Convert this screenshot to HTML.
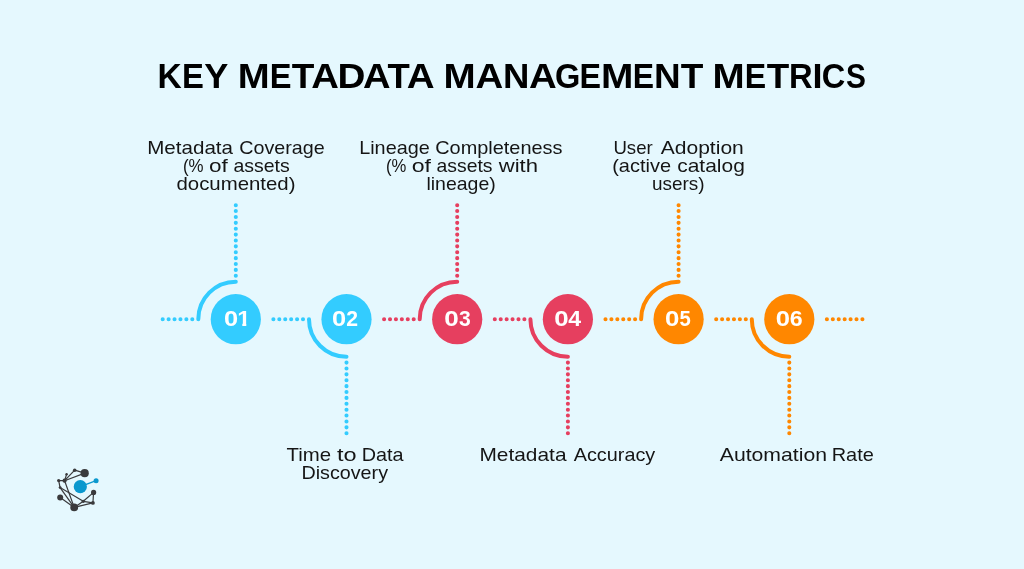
<!DOCTYPE html>
<html lang="en">
<head>
<meta charset="utf-8">
<title>Key Metadata Management Metrics</title>
<style>
html,body{margin:0;padding:0;background:#E5F8FE;}
body{width:1024px;height:569px;overflow:hidden;font-family:"Liberation Sans",sans-serif;}
svg{display:block;will-change:transform;}
text{font-family:"Liberation Sans",sans-serif;}
.title{font-size:35.1px;font-weight:bold;fill:#000;}
.lbl{font-size:17.7px;fill:#151515;}
.num{font-size:21.4px;font-weight:bold;fill:#fff;}
</style>
</head>
<body>
<svg width="1024" height="569" viewBox="0 0 1024 569">
<rect width="1024" height="569" fill="#E5F8FE"/>
<defs><clipPath id="c1"><rect x="237.80" y="304.50" width="8.80" height="18.47"/><rect x="242.29" y="322.92" width="4.01" height="3.98"/></clipPath></defs>
<line x1="162.70" y1="319.20" x2="192.40" y2="319.20" stroke="#33CCFF" stroke-width="4.1" stroke-linecap="round" stroke-dasharray="0 5.92"/>
<path d="M198.30 319.20 A37.5 37.5 0 0 1 235.80 281.70" fill="none" stroke="#33CCFF" stroke-width="4.0" stroke-linecap="round"/>
<line x1="235.80" y1="275.80" x2="235.80" y2="205.08" stroke="#33CCFF" stroke-width="4.1" stroke-linecap="round" stroke-dasharray="0 5.885"/>
<circle cx="235.80" cy="319.20" r="25.1" fill="#33CCFF"/>
<line x1="273.40" y1="319.20" x2="303.10" y2="319.20" stroke="#33CCFF" stroke-width="4.1" stroke-linecap="round" stroke-dasharray="0 5.92"/>
<path d="M309.00 319.20 A37.5 37.5 0 0 0 346.50 356.70" fill="none" stroke="#33CCFF" stroke-width="4.0" stroke-linecap="round"/>
<line x1="346.50" y1="362.60" x2="346.50" y2="433.32" stroke="#33CCFF" stroke-width="4.1" stroke-linecap="round" stroke-dasharray="0 5.885"/>
<circle cx="346.50" cy="319.20" r="25.1" fill="#33CCFF"/>
<line x1="384.10" y1="319.20" x2="413.80" y2="319.20" stroke="#E63F5F" stroke-width="4.1" stroke-linecap="round" stroke-dasharray="0 5.92"/>
<path d="M419.70 319.20 A37.5 37.5 0 0 1 457.20 281.70" fill="none" stroke="#E63F5F" stroke-width="4.0" stroke-linecap="round"/>
<line x1="457.20" y1="275.80" x2="457.20" y2="205.08" stroke="#E63F5F" stroke-width="4.1" stroke-linecap="round" stroke-dasharray="0 5.885"/>
<circle cx="457.20" cy="319.20" r="25.1" fill="#E63F5F"/>
<line x1="494.80" y1="319.20" x2="524.50" y2="319.20" stroke="#E63F5F" stroke-width="4.1" stroke-linecap="round" stroke-dasharray="0 5.92"/>
<path d="M530.40 319.20 A37.5 37.5 0 0 0 567.90 356.70" fill="none" stroke="#E63F5F" stroke-width="4.0" stroke-linecap="round"/>
<line x1="567.90" y1="362.60" x2="567.90" y2="433.32" stroke="#E63F5F" stroke-width="4.1" stroke-linecap="round" stroke-dasharray="0 5.885"/>
<circle cx="567.90" cy="319.20" r="25.1" fill="#E63F5F"/>
<line x1="605.50" y1="319.20" x2="635.20" y2="319.20" stroke="#FF8700" stroke-width="4.1" stroke-linecap="round" stroke-dasharray="0 5.92"/>
<path d="M641.10 319.20 A37.5 37.5 0 0 1 678.60 281.70" fill="none" stroke="#FF8700" stroke-width="4.0" stroke-linecap="round"/>
<line x1="678.60" y1="275.80" x2="678.60" y2="205.08" stroke="#FF8700" stroke-width="4.1" stroke-linecap="round" stroke-dasharray="0 5.885"/>
<circle cx="678.60" cy="319.20" r="25.1" fill="#FF8700"/>
<line x1="716.20" y1="319.20" x2="745.90" y2="319.20" stroke="#FF8700" stroke-width="4.1" stroke-linecap="round" stroke-dasharray="0 5.92"/>
<path d="M751.80 319.20 A37.5 37.5 0 0 0 789.30 356.70" fill="none" stroke="#FF8700" stroke-width="4.0" stroke-linecap="round"/>
<line x1="789.30" y1="362.60" x2="789.30" y2="433.32" stroke="#FF8700" stroke-width="4.1" stroke-linecap="round" stroke-dasharray="0 5.885"/>
<circle cx="789.30" cy="319.20" r="25.1" fill="#FF8700"/>
<line x1="826.90" y1="319.20" x2="862.52" y2="319.20" stroke="#FF8700" stroke-width="4.1" stroke-linecap="round" stroke-dasharray="0 5.92"/>
<text class="title" y="88.00"><tspan x="157.51" textLength="24.20" lengthAdjust="spacingAndGlyphs">K</tspan><tspan x="182.11" textLength="21.88" lengthAdjust="spacingAndGlyphs">E</tspan><tspan x="204.18" textLength="24.10" lengthAdjust="spacingAndGlyphs">Y</tspan></text>
<text class="title" y="88.00"><tspan x="237.84" textLength="31.93" lengthAdjust="spacingAndGlyphs">M</tspan><tspan x="269.72" textLength="21.76" lengthAdjust="spacingAndGlyphs">E</tspan><tspan x="291.68" textLength="22.61" lengthAdjust="spacingAndGlyphs">T</tspan><tspan x="311.15" textLength="27.66" lengthAdjust="spacingAndGlyphs">A</tspan><tspan x="337.41" textLength="27.91" lengthAdjust="spacingAndGlyphs">D</tspan><tspan x="362.95" textLength="27.56" lengthAdjust="spacingAndGlyphs">A</tspan><tspan x="387.59" textLength="22.30" lengthAdjust="spacingAndGlyphs">T</tspan><tspan x="406.84" textLength="27.88" lengthAdjust="spacingAndGlyphs">A</tspan></text>
<text class="title" y="88.00"><tspan x="443.62" textLength="32.17" lengthAdjust="spacingAndGlyphs">M</tspan><tspan x="475.54" textLength="27.77" lengthAdjust="spacingAndGlyphs">A</tspan><tspan x="503.05" textLength="26.41" lengthAdjust="spacingAndGlyphs">N</tspan><tspan x="529.04" textLength="27.77" lengthAdjust="spacingAndGlyphs">A</tspan><tspan x="554.96" textLength="25.36" lengthAdjust="spacingAndGlyphs">G</tspan><tspan x="579.54" textLength="21.52" lengthAdjust="spacingAndGlyphs">E</tspan><tspan x="600.90" textLength="32.40" lengthAdjust="spacingAndGlyphs">M</tspan><tspan x="632.87" textLength="21.28" lengthAdjust="spacingAndGlyphs">E</tspan><tspan x="654.03" textLength="26.66" lengthAdjust="spacingAndGlyphs">N</tspan><tspan x="680.78" textLength="22.61" lengthAdjust="spacingAndGlyphs">T</tspan></text>
<text class="title" y="88.00"><tspan x="712.62" textLength="32.17" lengthAdjust="spacingAndGlyphs">M</tspan><tspan x="744.75" textLength="21.40" lengthAdjust="spacingAndGlyphs">E</tspan><tspan x="766.69" textLength="22.51" lengthAdjust="spacingAndGlyphs">T</tspan><tspan x="789.01" textLength="23.66" lengthAdjust="spacingAndGlyphs">R</tspan><tspan x="812.59" textLength="10.03" lengthAdjust="spacingAndGlyphs">I</tspan><tspan x="821.86" textLength="23.53" lengthAdjust="spacingAndGlyphs">C</tspan><tspan x="846.04" textLength="19.93" lengthAdjust="spacingAndGlyphs">S</tspan></text>
<text class="lbl" y="153.70"><tspan x="147.22" textLength="85.78" lengthAdjust="spacingAndGlyphs">Metadata</tspan> <tspan x="239.23" textLength="85.54" lengthAdjust="spacingAndGlyphs">Coverage</tspan></text>
<text class="lbl" y="171.60"><tspan x="182.91" textLength="20.63" lengthAdjust="spacingAndGlyphs">(%</tspan> <tspan x="208.96" textLength="18.80" lengthAdjust="spacingAndGlyphs">of</tspan> <tspan x="233.47" textLength="56.30" lengthAdjust="spacingAndGlyphs">assets</tspan></text>
<text class="lbl" y="189.50"><tspan x="176.48" textLength="119.04" lengthAdjust="spacingAndGlyphs">documented)</tspan></text>
<text class="lbl" y="153.70"><tspan x="359.19" textLength="70.59" lengthAdjust="spacingAndGlyphs">Lineage</tspan> <tspan x="435.24" textLength="127.27" lengthAdjust="spacingAndGlyphs">Completeness</tspan></text>
<text class="lbl" y="171.60"><tspan x="385.93" textLength="20.36" lengthAdjust="spacingAndGlyphs">(%</tspan> <tspan x="411.70" textLength="19.30" lengthAdjust="spacingAndGlyphs">of</tspan> <tspan x="436.48" textLength="56.04" lengthAdjust="spacingAndGlyphs">assets</tspan> <tspan x="498.75" textLength="39.31" lengthAdjust="spacingAndGlyphs">with</tspan></text>
<text class="lbl" y="189.50"><tspan x="426.45" textLength="69.34" lengthAdjust="spacingAndGlyphs">lineage)</tspan></text>
<text class="lbl" y="153.70"><tspan x="613.43" textLength="39.34" lengthAdjust="spacingAndGlyphs">User</tspan> <tspan x="660.75" textLength="83.03" lengthAdjust="spacingAndGlyphs">Adoption</tspan></text>
<text class="lbl" y="171.60"><tspan x="612.21" textLength="58.82" lengthAdjust="spacingAndGlyphs">(active</tspan> <tspan x="677.22" textLength="67.58" lengthAdjust="spacingAndGlyphs">catalog</tspan></text>
<text class="lbl" y="189.50"><tspan x="651.94" textLength="52.61" lengthAdjust="spacingAndGlyphs">users)</tspan></text>
<text class="lbl" y="460.70"><tspan x="286.48" textLength="44.55" lengthAdjust="spacingAndGlyphs">Time</tspan> <tspan x="336.97" textLength="19.61" lengthAdjust="spacingAndGlyphs">to</tspan> <tspan x="361.69" textLength="41.81" lengthAdjust="spacingAndGlyphs">Data</tspan></text>
<text class="lbl" y="478.60"><tspan x="301.47" textLength="86.54" lengthAdjust="spacingAndGlyphs">Discovery</tspan></text>
<text class="lbl" y="460.70"><tspan x="479.47" textLength="87.03" lengthAdjust="spacingAndGlyphs">Metadata</tspan> <tspan x="573.75" textLength="81.50" lengthAdjust="spacingAndGlyphs">Accuracy</tspan></text>
<text class="lbl" y="460.70"><tspan x="719.75" textLength="107.27" lengthAdjust="spacingAndGlyphs">Automation</tspan> <tspan x="831.66" textLength="42.14" lengthAdjust="spacingAndGlyphs">Rate</tspan></text>
<text class="num" y="325.90"><tspan x="223.99" textLength="14.15" lengthAdjust="spacingAndGlyphs">0</tspan></text><text class="num" y="325.90" clip-path="url(#c1)"><tspan x="237.15" textLength="13.43" lengthAdjust="spacingAndGlyphs">1</tspan></text>
<text class="num" y="325.90"><tspan x="332.09" textLength="14.15" lengthAdjust="spacingAndGlyphs">0</tspan><tspan x="346.27" textLength="11.78" lengthAdjust="spacingAndGlyphs">2</tspan></text>
<text class="num" y="325.90"><tspan x="444.37" textLength="14.50" lengthAdjust="spacingAndGlyphs">0</tspan><tspan x="458.92" textLength="11.75" lengthAdjust="spacingAndGlyphs">3</tspan></text>
<text class="num" y="325.90"><tspan x="554.28" textLength="14.38" lengthAdjust="spacingAndGlyphs">0</tspan><tspan x="568.35" textLength="12.87" lengthAdjust="spacingAndGlyphs">4</tspan></text>
<text class="num" y="325.90"><tspan x="664.98" textLength="14.38" lengthAdjust="spacingAndGlyphs">0</tspan><tspan x="679.38" textLength="11.29" lengthAdjust="spacingAndGlyphs">5</tspan></text>
<text class="num" y="325.90"><tspan x="775.79" textLength="14.27" lengthAdjust="spacingAndGlyphs">0</tspan><tspan x="789.75" textLength="12.89" lengthAdjust="spacingAndGlyphs">6</tspan></text>
<g><line x1="84.7" y1="473.15" x2="74.7" y2="470.2" stroke="#3a3a3c" stroke-width="1.2"/><line x1="84.7" y1="473.15" x2="64.6" y2="480.7" stroke="#3a3a3c" stroke-width="1.2"/><line x1="74.7" y1="470.2" x2="64.6" y2="480.7" stroke="#3a3a3c" stroke-width="1.2"/><line x1="66.6" y1="474.2" x2="64.6" y2="480.7" stroke="#3a3a3c" stroke-width="1.2"/><line x1="58.7" y1="480.6" x2="64.6" y2="480.7" stroke="#3a3a3c" stroke-width="1.2"/><line x1="58.7" y1="480.6" x2="60.1" y2="487.6" stroke="#3a3a3c" stroke-width="1.2"/><line x1="64.6" y1="480.7" x2="74.2" y2="507.4" stroke="#3a3a3c" stroke-width="1.2"/><line x1="60.1" y1="487.6" x2="74.2" y2="507.4" stroke="#3a3a3c" stroke-width="1.2"/><line x1="60.2" y1="497.5" x2="74.2" y2="507.4" stroke="#3a3a3c" stroke-width="1.2"/><line x1="60.1" y1="487.6" x2="83.3" y2="501.3" stroke="#3a3a3c" stroke-width="1.2"/><line x1="74.2" y1="507.4" x2="83.3" y2="501.3" stroke="#3a3a3c" stroke-width="1.2"/><line x1="74.2" y1="507.4" x2="92.9" y2="502.9" stroke="#3a3a3c" stroke-width="1.2"/><line x1="83.3" y1="501.3" x2="92.9" y2="502.9" stroke="#3a3a3c" stroke-width="1.2"/><line x1="83.3" y1="501.3" x2="93.6" y2="492.4" stroke="#3a3a3c" stroke-width="1.2"/><line x1="92.9" y1="502.9" x2="93.6" y2="492.4" stroke="#3a3a3c" stroke-width="1.2"/><circle cx="84.7" cy="473.15" r="4.1" fill="#3a3a3c"/><circle cx="74.7" cy="470.2" r="1.8" fill="#3a3a3c"/><circle cx="66.6" cy="474.2" r="1.2" fill="#3a3a3c"/><circle cx="58.7" cy="480.6" r="1.7" fill="#3a3a3c"/><circle cx="64.6" cy="480.7" r="2.1" fill="#3a3a3c"/><circle cx="60.1" cy="487.6" r="1.4" fill="#3a3a3c"/><circle cx="60.2" cy="497.5" r="3.0" fill="#3a3a3c"/><circle cx="74.2" cy="507.4" r="3.9" fill="#3a3a3c"/><circle cx="83.3" cy="501.3" r="1.6" fill="#3a3a3c"/><circle cx="92.9" cy="502.9" r="1.9" fill="#3a3a3c"/><circle cx="93.6" cy="492.4" r="2.6" fill="#3a3a3c"/><line x1="80.3" y1="486.7" x2="96.1" y2="480.7" stroke="#0A98CE" stroke-width="1.3"/><circle cx="80.3" cy="486.7" r="6.6" fill="#0A98CE"/><circle cx="96.1" cy="480.7" r="2.5" fill="#0A98CE"/></g>
</svg>
</body>
</html>
